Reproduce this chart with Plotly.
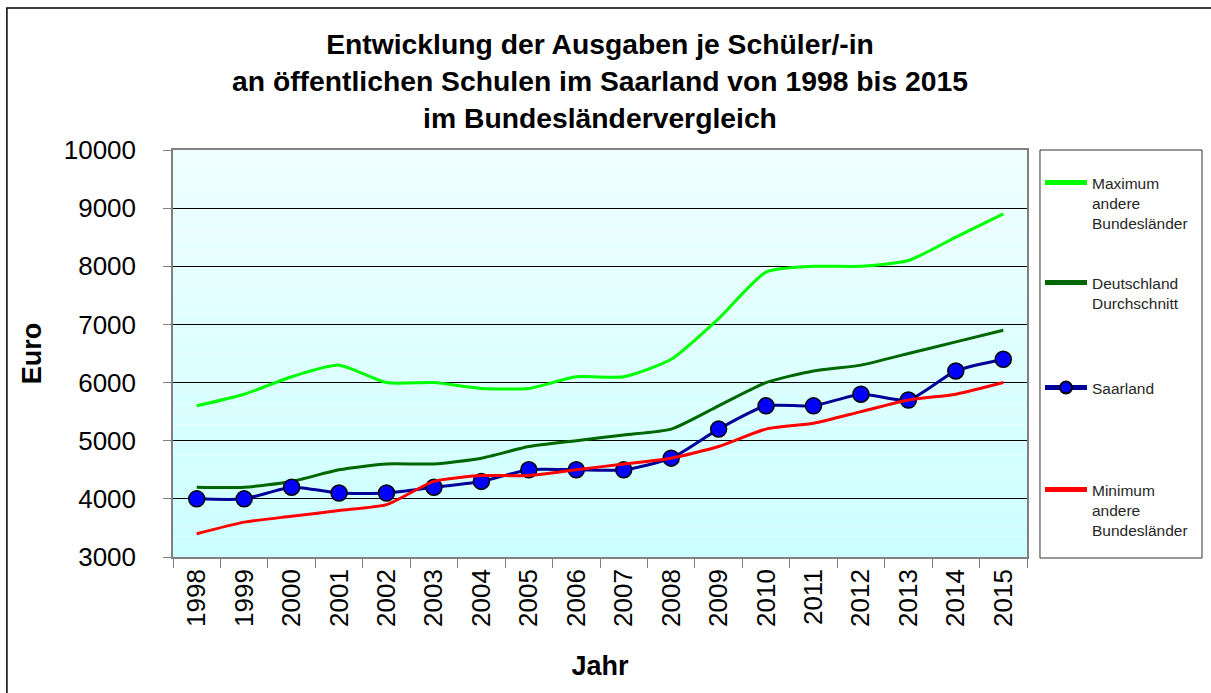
import plotly.graph_objects as go

years = [str(y) for y in range(1998, 2016)]
maximum = [5600, 5800, 6100, 6300, 6000, 6000, 5900, 5900, 6100, 6100, 6400, 7100, 7900, 8000, 8000, 8100, 8500, 8900]
durchschnitt = [4200, 4200, 4300, 4500, 4600, 4600, 4700, 4900, 5000, 5100, 5200, 5600, 6000, 6200, 6300, 6500, 6700, 6900]
saarland = [4000, 4000, 4200, 4100, 4100, 4200, 4300, 4500, 4500, 4500, 4700, 5200, 5600, 5600, 5800, 5700, 6200, 6400]
minimum = [3400, 3600, 3700, 3800, 3900, 4300, 4400, 4400, 4500, 4600, 4700, 4900, 5200, 5300, 5500, 5700, 5800, 6000]

FONT = "Arial, Liberation Sans, sans-serif"

fig = go.Figure()
sm = 0.6
fig.add_trace(go.Scatter(x=years, y=maximum, mode="lines", name="Maximum<br>andere<br>Bundesländer",
                         line=dict(color="#00FF00", width=3, shape="spline", smoothing=sm), legend="legend"))
fig.add_trace(go.Scatter(x=years, y=durchschnitt, mode="lines", name="Deutschland<br>Durchschnitt",
                         line=dict(color="#006600", width=3, shape="spline", smoothing=sm), legend="legend2"))
fig.add_trace(go.Scatter(x=years, y=saarland, mode="lines+markers", name="Saarland",
                         line=dict(color="#000099", width=3, shape="spline", smoothing=sm),
                         marker=dict(size=16, color="#0000FF", line=dict(color="black", width=1.5)),
                         legend="legend3"))
fig.add_trace(go.Scatter(x=years, y=minimum, mode="lines", name="Minimum<br>andere<br>Bundesländer",
                         line=dict(color="#FF0000", width=3, shape="spline", smoothing=sm), legend="legend4"))

# gradient background for plot area
shapes = []
n = 40
top = (0xF0, 0xFF, 0xFF)
bot = (0xCC, 0xFF, 0xFF)
for i in range(n):
    t = i / (n - 1)
    c = tuple(round(bot[k] + (top[k] - bot[k]) * t) for k in range(3))
    shapes.append(dict(type="rect", xref="paper", yref="paper", x0=0, x1=1,
                       y0=i / n, y1=(i + 1) / n, fillcolor="rgb(%d,%d,%d)" % c,
                       line=dict(width=0), layer="below"))
# outer frame
shapes.append(dict(type="rect", xref="paper", yref="paper", x0=-0.1945, x1=1.25,
                   y0=-0.40, y1=1.349, line=dict(color="black", width=1.5), fillcolor="rgba(0,0,0,0)"))
# legend box
shapes.append(dict(type="rect", xref="paper", yref="paper", x0=1.0152, x1=1.2049,
                   y0=-0.0025, y1=1.0, line=dict(color="#333", width=1), fillcolor="white", layer="below"))

LEG_X = 1.0152
leg_common = dict(x=LEG_X, xanchor="left", yanchor="top", bgcolor="rgba(0,0,0,0)", borderwidth=0,
                  font=dict(size=15.5, family=FONT, color="#262626"), valign="top", itemwidth=42,
                  itemsizing="constant")

fig.update_layout(
    width=1211, height=693,
    margin=dict(l=173, r=184, t=150, b=136),
    paper_bgcolor="white",
    plot_bgcolor="rgba(0,0,0,0)",
    font=dict(family=FONT, color="black"),
    title=dict(text="<b>Entwicklung der Ausgaben je Schüler/-in<br>an öffentlichen Schulen im Saarland von 1998 bis 2015<br>im Bundesländervergleich</b>",
               x=600 / 1211, xanchor="center", yref="container", y=1 - 54 / 693, yanchor="top",
               font=dict(size=28.3, family=FONT, color="black")),
    shapes=shapes,
    showlegend=True,
    legend=dict(y=(557 - 166) / 407, **leg_common),
    legend2=dict(y=(557 - 266) / 407, **leg_common),
    legend3=dict(y=(557 - 371) / 407, **leg_common),
    legend4=dict(y=(557 - 473) / 407, **leg_common),
)
fig.update_xaxes(type="category", range=[-0.5, 17.5], tickangle=-90, tickfont=dict(size=26),
                 title=dict(text="<b>Jahr</b>", font=dict(size=27), standoff=30),
                 showline=True, linecolor="#808080", linewidth=1.5, mirror=True,
                 ticks="outside", ticklen=9, tickcolor="#808080", tickson="boundaries",
                 showgrid=False, automargin=False)
fig.update_yaxes(range=[3000, 10000], dtick=1000, tickformat="d", tickfont=dict(size=26),
                 title=dict(text="<b>Euro</b>", font=dict(size=27), standoff=14),
                 showline=True, linecolor="#808080", linewidth=1.5, mirror=True,
                 ticks="outside", ticklen=8, tickcolor="#808080", ticklabelstandoff=22,
                 showgrid=True, gridcolor="black", gridwidth=1, zeroline=False, automargin=False)

fig.write_html("out.html", config={"displayModeBar": False},
               post_script="document.body.style.margin='0';")
